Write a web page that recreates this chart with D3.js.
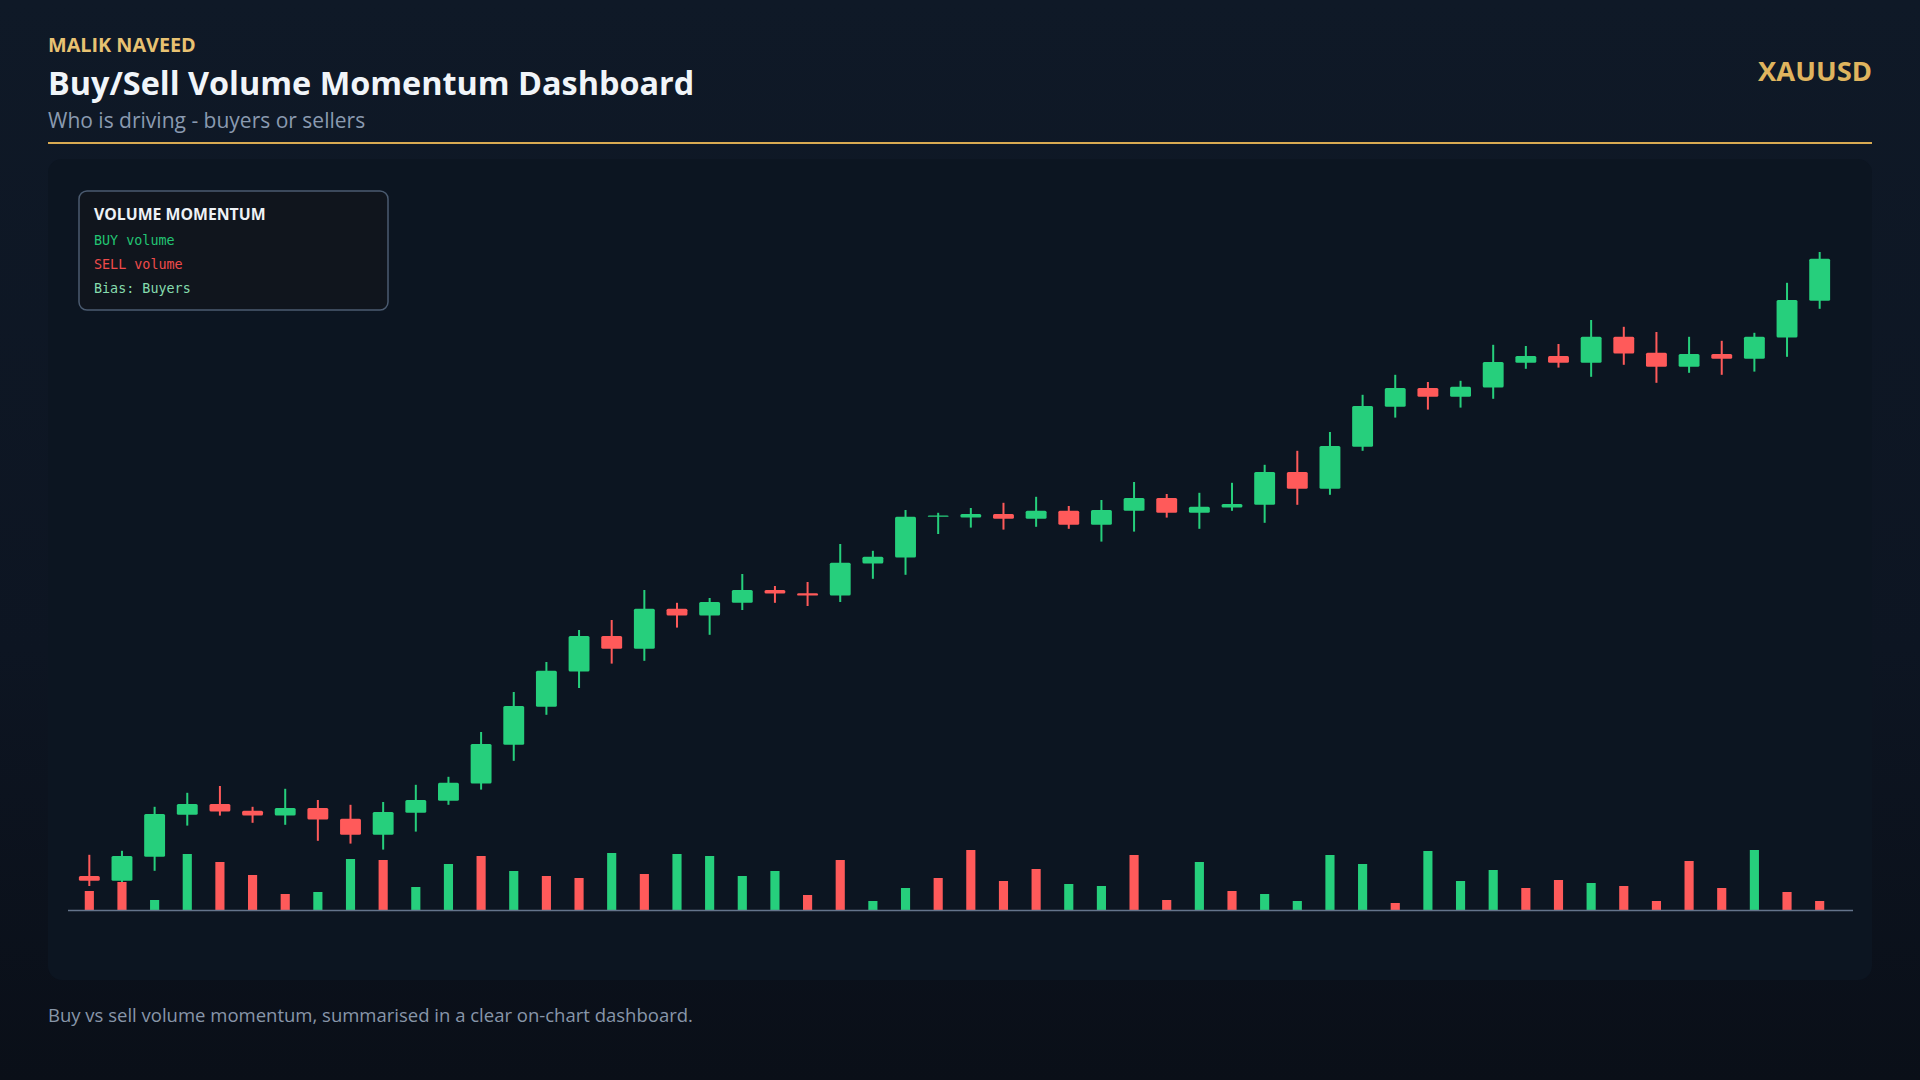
<!DOCTYPE html>
<html>
<head>
<meta charset="utf-8">
<title>Buy/Sell Volume Momentum Dashboard</title>
<script src="https://cdnjs.cloudflare.com/ajax/libs/d3/7.8.5/d3.min.js"></script>
<style>
  html, body {
    margin: 0;
    padding: 0;
    width: 1920px;
    height: 1080px;
    overflow: hidden;
    background: linear-gradient(180deg, #0f1927 0%, #0d1522 60%, #0a0f18 100%);
  }
  svg { display: block; }
</style>
</head>
<body>
<svg id="display" width="1920" height="1080"></svg>
<script>
'use strict';
//data - XAUUSD candles
var OPENS = [2302.5, 2301.3, 2307.3, 2317.8, 2320.5, 2318.8, 2317.6, 2319.5, 2316.8, 2312.8,
  2318.3, 2321.3, 2325.6, 2335.3, 2344.8, 2353.6, 2362.5, 2359.3, 2369.3, 2367.6,
  2370.8, 2374.0, 2373.2, 2372.6, 2380.6, 2382.1, 2392.3, 2392.1, 2393.0, 2391.8,
  2393.8, 2390.3, 2393.8, 2397.0, 2393.3, 2394.6, 2395.3, 2403.5, 2399.3, 2409.8,
  2419.8, 2424.5, 2422.3, 2424.6, 2430.8, 2432.5, 2430.8, 2437.3, 2433.3, 2429.8,
  2433.0, 2431.8, 2437.1, 2446.3];
var HIGHS = [2307.8, 2308.8, 2319.8, 2323.3, 2325.0, 2319.8, 2324.3, 2321.5, 2320.3, 2321.0,
  2325.3, 2327.3, 2338.5, 2348.5, 2356.0, 2364.0, 2366.5, 2374.0, 2370.8, 2372.0,
  2378.0, 2375.0, 2376.0, 2385.5, 2383.8, 2394.0, 2393.3, 2394.5, 2395.8, 2397.3,
  2395.0, 2396.5, 2401.0, 2398.0, 2398.3, 2400.8, 2405.3, 2408.8, 2413.5, 2422.8,
  2427.8, 2426.0, 2426.3, 2435.3, 2435.0, 2435.5, 2441.5, 2439.8, 2438.5, 2437.3,
  2436.3, 2438.3, 2450.8, 2458.5];
var LOWS = [2300.0, 2300.8, 2303.8, 2315.1, 2317.6, 2315.8, 2315.3, 2311.3, 2310.6, 2309.1,
  2313.6, 2320.3, 2324.1, 2331.3, 2342.8, 2349.5, 2355.6, 2356.3, 2364.6, 2362.8,
  2369.0, 2370.8, 2370.0, 2371.0, 2376.8, 2377.8, 2388.0, 2389.6, 2389.1, 2389.8,
  2389.3, 2386.1, 2388.6, 2392.1, 2389.3, 2393.8, 2390.8, 2395.3, 2397.8, 2408.8,
  2417.1, 2419.1, 2419.6, 2421.8, 2429.3, 2429.6, 2427.3, 2430.3, 2425.8, 2428.3,
  2427.8, 2428.6, 2432.3, 2444.3];
var CLOSES = [2301.3, 2307.5, 2318.0, 2320.5, 2318.6, 2317.6, 2319.5, 2316.6, 2312.8, 2318.5,
  2321.5, 2325.8, 2335.5, 2345.0, 2353.8, 2362.5, 2359.3, 2369.3, 2367.6, 2371.0,
  2374.0, 2373.1, 2372.6, 2380.8, 2382.3, 2392.3, 2392.6, 2393.0, 2391.8, 2393.8,
  2390.3, 2394.0, 2397.0, 2393.3, 2394.8, 2395.5, 2403.5, 2399.3, 2410.0, 2420.0,
  2424.5, 2422.3, 2424.8, 2431.0, 2432.5, 2430.8, 2437.3, 2433.1, 2429.8, 2433.0,
  2431.8, 2437.3, 2446.5, 2456.8];
//volume per bar and which side dominated it (B = buyers, S = sellers)
var VOLUMES = [19, 28, 10, 56, 48, 35, 16, 18, 51, 50,
  23, 46, 54, 39, 34, 32, 57, 36, 56, 54,
  34, 39, 15, 50, 9, 22, 32, 60, 29, 41,
  26, 24, 55, 10, 48, 19, 16, 9, 55, 46,
  7, 59, 29, 40, 22, 30, 27, 24, 9, 49,
  22, 60, 18, 9];
var VOLUME_SIDES = ['S', 'S', 'B', 'B', 'S', 'S', 'S', 'B', 'B', 'S',
  'B', 'B', 'S', 'B', 'S', 'S', 'B', 'S', 'B', 'B',
  'B', 'B', 'S', 'S', 'B', 'B', 'S', 'S', 'S', 'S',
  'B', 'B', 'S', 'S', 'B', 'S', 'B', 'B', 'B', 'B',
  'S', 'B', 'B', 'B', 'S', 'S', 'B', 'S', 'S', 'S',
  'S', 'B', 'S', 'S'];
var LEGEND_LINES = [
  { text: 'BUY volume', color: '#22c473' },
  { text: 'SELL volume', color: '#ef4b4b' },
  { text: 'Bias: Buyers', color: '#86dcae' }
];

//constants
var WIDTH = 1920;
var HEIGHT = 1080;
var MARGINS = { left: 48, right: 48 };
var GREEN = '#26cf7c';
var RED = '#ff5a5a';
var GOLD = '#d8aa52';
var SANS = '"Segoe UI", "Open Sans", "Noto Sans", sans-serif';
var MONO = '"DejaVu Sans Mono", "Liberation Mono", monospace';

var svg = d3.select('#display');

var candles = OPENS.map(function(o, i) {
  return { i: i, open: o, high: HIGHS[i], low: LOWS[i], close: CLOSES[i],
    volume: VOLUMES[i], side: VOLUME_SIDES[i] };
});

var x = d3.scaleBand()
  .domain(d3.range(candles.length))
  .range([73, 1836])
  .padding(0);
var y = d3.scaleLinear()
  .domain([2300, 2460])
  .range([886, 246]);
var yVol = d3.scaleLinear()
  .domain([0, 60])
  .range([910, 850]);

drawHeader();
drawPanel();
drawCandles(candles);
drawVolume(candles);
drawLegend();
drawFooter();

//helpers
function drawHeader() {
  svg.append('text')
    .attr('x', MARGINS.left)
    .attr('y', 52)
    .attr('fill', '#e8c272')
    .attr('font-family', SANS)
    .attr('font-weight', 700)
    .attr('font-size', 19.8)
    .text('MALIK NAVEED');

  svg.append('text')
    .attr('x', MARGINS.left)
    .attr('y', 95)
    .attr('fill', '#f1f5f9')
    .attr('font-family', SANS)
    .attr('font-weight', 700)
    .attr('font-size', 32.4)
    .text('Buy/Sell Volume Momentum Dashboard');

  svg.append('text')
    .attr('x', MARGINS.left)
    .attr('y', 128)
    .attr('fill', '#8a9ab0')
    .attr('font-family', SANS)
    .attr('font-size', 21)
    .text('Who is driving - buyers or sellers');

  svg.append('text')
    .attr('x', WIDTH - MARGINS.right)
    .attr('y', 81)
    .attr('text-anchor', 'end')
    .attr('fill', '#dfb45e')
    .attr('font-family', SANS)
    .attr('font-weight', 700)
    .attr('font-size', 27.4)
    .text('XAUUSD');

  svg.append('rect')
    .attr('x', MARGINS.left)
    .attr('y', 142)
    .attr('width', WIDTH - MARGINS.left - MARGINS.right)
    .attr('height', 2)
    .attr('fill', GOLD);
}

function drawPanel() {
  svg.append('rect')
    .attr('x', MARGINS.left)
    .attr('y', 159)
    .attr('width', WIDTH - MARGINS.left - MARGINS.right)
    .attr('height', 821)
    .attr('rx', 14)
    .attr('fill', '#0c1521');
}

function drawCandles(data) {
  var bodyW = x.bandwidth() * 0.64;
  var g = svg.append('g').attr('class', 'candles');

  var candle = g.selectAll('g')
    .data(data)
    .enter()
    .append('g')
    .attr('fill', function(d) { return d.close >= d.open ? GREEN : RED; });

  candle.append('rect')
    .attr('x', function(d) { return x(d.i) + x.bandwidth() / 2 - 1; })
    .attr('y', function(d) { return y(d.high); })
    .attr('width', 2)
    .attr('height', function(d) { return y(d.low) - y(d.high); });

  candle.append('rect')
    .attr('x', function(d) { return x(d.i) + (x.bandwidth() - bodyW) / 2; })
    .attr('y', function(d) { return y(Math.max(d.open, d.close)); })
    .attr('width', bodyW)
    .attr('height', function(d) {
      return Math.max(1.2, Math.abs(y(d.open) - y(d.close)));
    })
    .attr('rx', 1.5);
}

function drawVolume(data) {
  var barW = x.bandwidth() * 0.28;

  svg.append('g')
    .attr('class', 'volume')
    .selectAll('rect')
    .data(data)
    .enter()
    .append('rect')
    .attr('x', function(d) { return x(d.i) + (x.bandwidth() - barW) / 2; })
    .attr('y', function(d) { return yVol(d.volume); })
    .attr('width', barW)
    .attr('height', function(d) { return yVol(0) - yVol(d.volume); })
    .attr('fill', function(d) { return d.side === 'B' ? GREEN : RED; });

  svg.append('line')
    .attr('x1', 68)
    .attr('x2', 1853)
    .attr('y1', yVol(0) + 0.5)
    .attr('y2', yVol(0) + 0.5)
    .attr('stroke', '#64748b')
    .attr('stroke-width', 1.5);
}

function drawLegend() {
  var g = svg.append('g')
    .attr('transform', 'translate(79, 191)');

  g.append('rect')
    .attr('width', 309)
    .attr('height', 119)
    .attr('rx', 8)
    .attr('fill', '#10151d')
    .attr('stroke', '#4b5b70')
    .attr('stroke-width', 1.5);

  g.append('text')
    .attr('x', 15)
    .attr('y', 29)
    .attr('fill', '#eef2f6')
    .attr('font-family', SANS)
    .attr('font-weight', 700)
    .attr('font-size', 15.8)
    .text('VOLUME MOMENTUM');

  g.selectAll('text.line')
    .data(LEGEND_LINES)
    .enter()
    .append('text')
    .attr('class', 'line')
    .attr('x', 15)
    .attr('y', function(d, i) { return 54 + i * 24; })
    .attr('fill', function(d) { return d.color; })
    .attr('font-family', MONO)
    .attr('font-size', 13.4)
    .text(function(d) { return d.text; });
}

function drawFooter() {
  svg.append('text')
    .attr('x', MARGINS.left)
    .attr('y', 1022)
    .attr('fill', '#8896a9')
    .attr('font-family', SANS)
    .attr('font-size', 18.5)
    .text('Buy vs sell volume momentum, summarised in a clear on-chart dashboard.');
}
</script>
</body>
</html>
